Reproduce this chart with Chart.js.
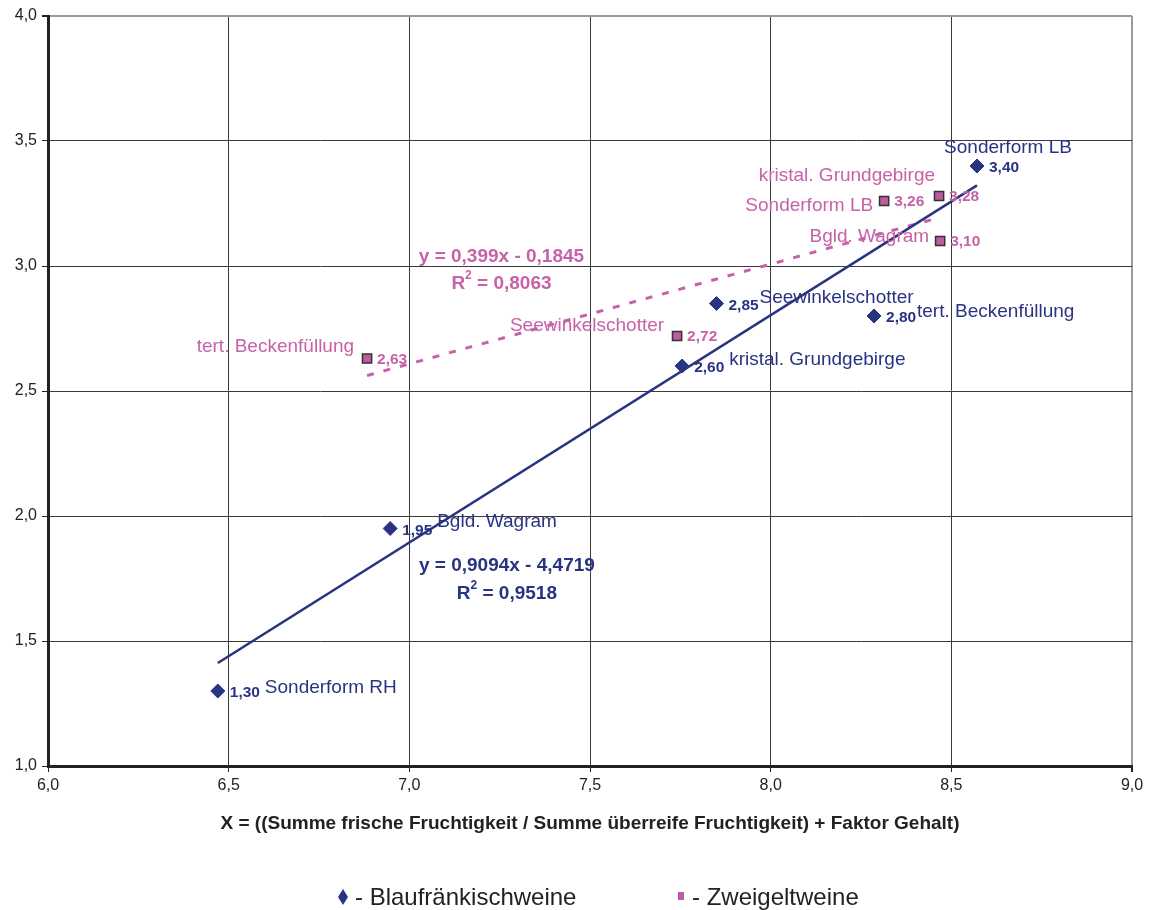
<!DOCTYPE html>
<html><head><meta charset="utf-8">
<script src="https://cdn.jsdelivr.net/npm/chart.js@4.4.1/dist/chart.umd.min.js"></script>
<style>html,body{margin:0;padding:0;background:#fff}#wrap{width:1151px;height:910px;position:relative}</style>
</head><body><div id="wrap"><canvas id="c"></canvas></div>
<script>
// ---- data ----
const blauNames = ['Sonderform RH', 'Bgld. Wagram', 'kristal. Grundgebirge', 'Seewinkelschotter', 'tert. Beckenfüllung', 'Sonderform LB'];
const blauX = [6.47, 6.947, 7.755, 7.85, 8.286, 8.571];
const blauY = [1.30, 1.95, 2.60, 2.85, 2.80, 3.40];
const zweigNames = ['tert. Beckenfüllung', 'Seewinkelschotter', 'Sonderform LB', 'kristal. Grundgebirge', 'Bgld. Wagram'];
const zweigX = [6.883, 7.741, 8.314, 8.466, 8.469];
const zweigY = [2.63, 2.72, 3.26, 3.28, 3.10];
const blauTrend = [0.9094, -4.4719];   // slope, intercept
const zweigTrend = [0.399, -0.1845];
const blauR2 = 0.9518;
const zweigR2 = 0.8063;
const xTickValues = [6.0, 6.5, 7.0, 7.5, 8.0, 8.5, 9.0];
const yTickValues = [1.0, 1.5, 2.0, 2.5, 3.0, 3.5, 4.0];
const xTitle = 'X = ((Summe frische Fruchtigkeit / Summe überreife Fruchtigkeit) + Faktor Gehalt)';
const legendLabels = ['- Blaufränkischweine', '- Zweigeltweine'];

// ---- styles / placement ----
const NAVY = '#283482';
const PINK_TXT = '#C862A8';
const PINK_FILL = '#BE5AA0';
const FONT = "'Liberation Sans', Arial, sans-serif";
// name label offsets in px relative to point (align)
const blauNameOff = [[47,-3,'left'],[47,-7,'left'],[47,-6,'left'],[43,-6,'left'],[43,-4,'left'],[31,-18,'center']];
const zweigNameOff = [[-13,-12,'right'],[-13,-10,'right'],[-11,5,'right'],[-4,-20,'right'],[-11,-4,'right']];
// equation anchors in data units
const blauEqAt = [7.27, 1.80, 1.69];
const zweigEqAt = [7.255, 3.035, 2.928];

const fmt = (v, d) => v.toFixed(d).replace('.', ',');
const trendPts = (xs, t) => {
  const mn = Math.min(...xs), mx = Math.max(...xs);
  return [{x: mn, y: t[0]*mn + t[1]}, {x: mx, y: t[0]*mx + t[1]}];
};
const decs = v => (String(Math.abs(v)).split('.')[1] || '').length;
const eqText = t => 'y = ' + fmt(t[0], decs(t[0])) + 'x ' + (t[1] < 0 ? '- ' : '+ ') + fmt(Math.abs(t[1]), decs(t[1]));

const labelPlugin = {
  id: 'labels',
  afterDatasetsDraw(chart) {
    const ctx = chart.ctx, xs = chart.scales.x, ys = chart.scales.y;
    ctx.save();
    ctx.textBaseline = 'middle';
    blauX.forEach((x, i) => {
      const px = xs.getPixelForValue(x), py = ys.getPixelForValue(blauY[i]);
      ctx.fillStyle = NAVY;
      ctx.font = 'bold 15.5px ' + FONT; ctx.textAlign = 'left';
      ctx.fillText(fmt(blauY[i], 2), px + 12, py + 2);
      const o = blauNameOff[i];
      ctx.font = '19px ' + FONT; ctx.textAlign = o[2];
      ctx.fillText(blauNames[i], px + o[0], py + o[1]);
    });
    zweigX.forEach((x, i) => {
      const px = xs.getPixelForValue(x), py = ys.getPixelForValue(zweigY[i]);
      ctx.fillStyle = PINK_TXT;
      ctx.font = 'bold 15.5px ' + FONT; ctx.textAlign = 'left';
      ctx.fillText(fmt(zweigY[i], 2), px + 10, py + 1);
      const o = zweigNameOff[i];
      ctx.font = '19px ' + FONT; ctx.textAlign = o[2];
      ctx.fillText(zweigNames[i], px + o[0], py + o[1]);
    });
    const drawEq = (t, r2, at, color) => {
      const cx = xs.getPixelForValue(at[0]);
      ctx.fillStyle = color; ctx.textAlign = 'center';
      ctx.font = 'bold 19px ' + FONT;
      ctx.fillText(eqText(t), cx, ys.getPixelForValue(at[1]));
      const y2 = ys.getPixelForValue(at[2]);
      const a = 'R', b = ' = ' + fmt(r2, 4);
      const wa = ctx.measureText(a).width, wb = ctx.measureText(b).width;
      ctx.font = 'bold 12px ' + FONT;
      const ws = ctx.measureText('2').width;
      const left = cx - (wa + ws + wb) / 2;
      ctx.textAlign = 'left';
      ctx.font = 'bold 19px ' + FONT;
      ctx.fillText(a, left, y2);
      ctx.fillText(b, left + wa + ws, y2);
      ctx.font = 'bold 12px ' + FONT;
      ctx.fillText('2', left + wa, y2 - 8);
    };
    drawEq(zweigTrend, zweigR2, zweigEqAt, PINK_TXT);
    drawEq(blauTrend, blauR2, blauEqAt, NAVY);
    ctx.restore();
  },
  afterDraw(chart) {
    const ctx = chart.ctx;
    ctx.save();
    ctx.textBaseline = 'middle';
    ctx.font = '24px ' + FONT;
    ctx.fillStyle = NAVY;
    ctx.beginPath();
    ctx.moveTo(343, 889); ctx.lineTo(348, 897); ctx.lineTo(343, 905); ctx.lineTo(338, 897); ctx.closePath();
    ctx.fill();
    ctx.fillStyle = '#222';
    ctx.textAlign = 'left';
    ctx.fillText(legendLabels[0], 355, 898);
    ctx.fillStyle = PINK_FILL;
    ctx.fillRect(678, 892, 6, 8);
    ctx.fillStyle = '#222';
    ctx.fillText(legendLabels[1], 692, 898);
    ctx.restore();
  }
};

new Chart(document.getElementById('c'), {
  data: {
    datasets: [
      {type: 'scatter', label: legendLabels[0], data: blauX.map((x, i) => ({x, y: blauY[i]})),
       pointStyle: 'rectRot', pointRadius: 7, backgroundColor: NAVY, borderColor: NAVY, borderWidth: 1, order: 0},
      {type: 'scatter', label: legendLabels[1], data: zweigX.map((x, i) => ({x, y: zweigY[i]})),
       pointStyle: 'rect', pointRadius: 6.5, backgroundColor: PINK_FILL, borderColor: '#333', borderWidth: 1.5, order: 0},
      {type: 'line', label: 'trend1', data: trendPts(blauX, blauTrend), borderColor: NAVY, borderWidth: 2.5,
       pointRadius: 0, fill: false, order: 1},
      {type: 'line', label: 'trend2', data: trendPts(zweigX, zweigTrend), borderColor: PINK_TXT, borderWidth: 3,
       borderDash: [7, 10], pointRadius: 0, fill: false, order: 1}
    ]
  },
  options: {
    responsive: true, maintainAspectRatio: false, animation: false,
    layout: {padding: {top: 16, right: 19, left: 0, bottom: 0}},
    plugins: {legend: {display: false}, tooltip: {enabled: false}},
    scales: {
      x: {type: 'linear', min: 6, max: 9,
        afterBuildTicks: s => { s.ticks = xTickValues.map(v => ({value: v})); },
        afterFit: s => { s.height = 144; },
        ticks: {callback: v => fmt(v, 1), color: '#222', font: {size: 16, family: FONT}, padding: 4, maxRotation: 0},
        grid: {color: c => (c.tick && c.tick.value === 9 ? '#9a9a9a' : '#3a3a3a'), lineWidth: c => (c.tick && c.tick.value === 9 ? 2 : 1), tickLength: 6, tickColor: '#222'},
        border: {color: '#222', width: 3},
        title: {display: true, text: xTitle, color: '#222', font: {size: 19, weight: 'bold', family: FONT}, padding: {top: 0, bottom: 75}}
      },
      y: {type: 'linear', min: 1, max: 4,
        afterBuildTicks: s => { s.ticks = yTickValues.map(v => ({value: v})); },
        afterFit: s => { s.width = 48; },
        ticks: {callback: v => fmt(v, 1), color: '#222', font: {size: 16, family: FONT}, padding: 5},
        grid: {color: c => (c.tick && c.tick.value === 4 ? '#9a9a9a' : '#3a3a3a'), lineWidth: c => (c.tick && c.tick.value === 4 ? 2 : 1), tickLength: 6, tickColor: '#222'},
        border: {color: '#222', width: 3}
      }
    }
  },
  plugins: [labelPlugin]
});
</script></body></html>
